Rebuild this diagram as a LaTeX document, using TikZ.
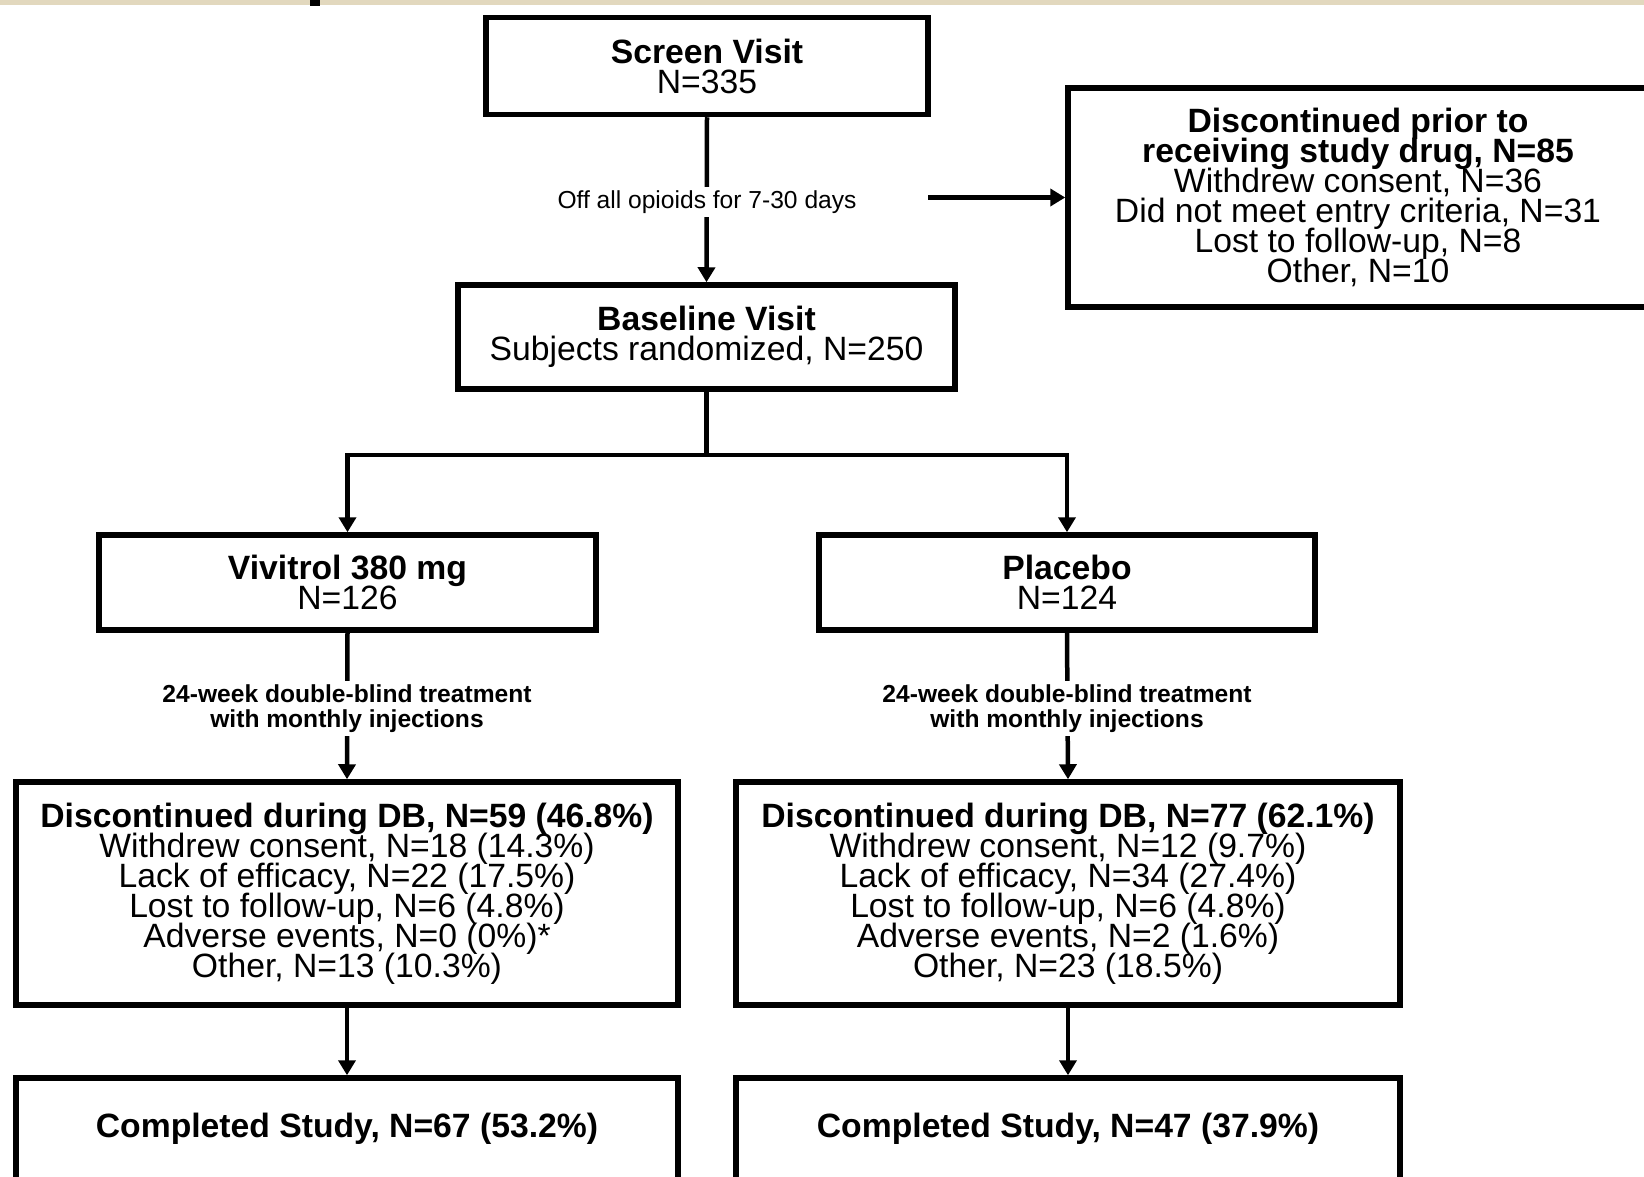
\documentclass[tikz,border=0pt]{standalone}
\usepackage{fontspec}
\setmainfont{Liberation Sans}
\usetikzlibrary{arrows.meta}
\newcommand\mainsz{\fontsize{16.85pt}{15pt}\selectfont\lineskiplimit=-30pt\relax}
\newcommand\lblsz{\fontsize{12.3pt}{12.5pt}\selectfont\lineskiplimit=-30pt\relax}
\definecolor{stripc}{HTML}{E2D8BE}
\begin{document}
\begin{tikzpicture}[x=0.5pt,y=-0.5pt,
  box/.style={draw=black, line width=2.75pt, fill=white, inner sep=0pt, align=center, font=\mainsz},
  lbl/.style={fill=white, inner sep=2pt, align=center, font=\lblsz},
  conn/.style={draw=black, line width=2.25pt},
  arr/.style={conn, -{Triangle[length=7.5pt,width=8.5pt]}}]
\useasboundingbox (0,0) rectangle (1644,1177);
\clip (0,0) rectangle (1644,1177);
\fill[white] (0,0) rectangle (1644,1177);
\fill[stripc] (0,0) rectangle (1644,5);
\fill[black] (310,0) rectangle (320,6);

\node[box, minimum width=221pt, minimum height=48.5pt, text depth=0pt] (screen) at (707,66)
  {\raisebox{0pt}{\textbf{Screen Visit}}\\N=335};
\node[box, minimum width=248.5pt, minimum height=52pt] (base) at (706.5,337)
  {\textbf{Baseline Visit}\\Subjects randomized, N=250};
\node[box, minimum width=290pt, minimum height=109.5pt] (prior) at (1358,197.5)
  {\textbf{Discontinued prior to}\\\textbf{receiving study drug, N=85}\\Withdrew consent, N=36\\Did not meet entry criteria, N=31\\Lost to follow-up, N=8\\Other, N=10};
\node[box, minimum width=248.5pt, minimum height=47.5pt] (viv) at (347.5,582.5)
  {\textbf{Vivitrol 380 mg}\\N=126};
\node[box, minimum width=248pt, minimum height=47.5pt] (plc) at (1067,582.5)
  {\textbf{Placebo}\\N=124};
\node[box, minimum width=331pt, minimum height=111.5pt] (dbl) at (347,893.5)
  {\textbf{Discontinued during DB, N=59 (46.8\%)}\\Withdrew consent, N=18 (14.3\%)\\Lack of efficacy, N=22 (17.5\%)\\Lost to follow-up, N=6 (4.8\%)\\Adverse events, N=0 (0\%)*\\Other, N=13 (10.3\%)};
\node[box, minimum width=332pt, minimum height=111.5pt] (dbr) at (1068,893.5)
  {\textbf{Discontinued during DB, N=77 (62.1\%)}\\Withdrew consent, N=12 (9.7\%)\\Lack of efficacy, N=34 (27.4\%)\\Lost to follow-up, N=6 (4.8\%)\\Adverse events, N=2 (1.6\%)\\Other, N=23 (18.5\%)};
\node[box, minimum width=331pt, minimum height=51pt] (compl) at (347,1129)
  {\textbf{Completed Study, N=67 (53.2\%)}};
\node[box, minimum width=332pt, minimum height=51pt] (compr) at (1068,1129)
  {\textbf{Completed Study, N=47 (37.9\%)}};

% connectors
\draw[arr] (screen.south) -- (base.north);
\node[lbl] (lab1) at (707,202) {Off all opioids for 7-30 days};
\coordinate (astart) at (928,197.5);
\draw[arr] (astart) -- (prior.west);

\coordinate (split) at (706.5,455);
\draw[conn] (base.south) -- (split);
\draw[arr] (split) -| (viv.north);
\draw[arr] (split) -| (plc.north);

\draw[arr] (viv.south) -- (dbl.north);
\node[lbl, font=\lblsz\bfseries] (lab2) at (347,708.5) {24-week double-blind treatment\\with monthly injections};
\draw[arr] (plc.south) -- (dbr.north);
\node[lbl, font=\lblsz\bfseries] (lab3) at (1067,708.5) {24-week double-blind treatment\\with monthly injections};

\draw[arr] (dbl.south) -- (compl.north);
\draw[arr] (dbr.south) -- (compr.north);
\end{tikzpicture}
\end{document}
